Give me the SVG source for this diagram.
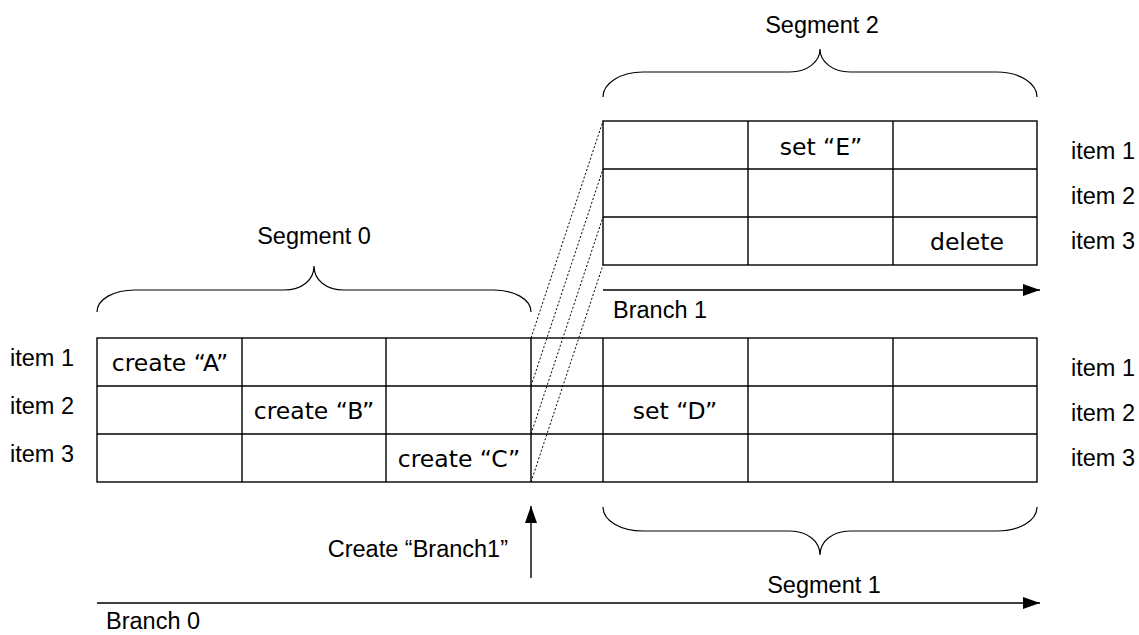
<svg xmlns="http://www.w3.org/2000/svg" width="1139" height="635" viewBox="0 0 1139 635">
  <defs>
    <style>
      .grid { fill: #ffffff; stroke: #000000; stroke-width: 1.4; }
      .rule { stroke: #000000; stroke-width: 1.4; fill: none; }
      .dot { stroke: #000000; stroke-width: 1; stroke-dasharray: 2 2; fill: none; }
      .brace { stroke: #000000; stroke-width: 1.2; fill: none; }
      .arrow { stroke: #000000; stroke-width: 1.4; fill: none; marker-end: url(#head); }
      .cell { font-family: "DejaVu Sans", Verdana, sans-serif; font-size: 23.5px; fill: #000000; text-anchor: middle; }
      .lbl { font-family: "Liberation Sans", Arial, sans-serif; font-size: 23.5px; fill: #000000; }
      .mid { text-anchor: middle; }
      .end { text-anchor: end; }
    </style>
    <marker id="head" markerUnits="userSpaceOnUse" markerWidth="18" markerHeight="12" refX="17" refY="6" orient="auto">
      <path d="M0,0 L17,6 L0,12 Z" fill="#000000"/>
    </marker>
  </defs>
  <rect width="1139" height="635" fill="#ffffff"/>

  <!-- Branch 0 grid: 7 columns x 3 items -->
  <g id="branch0-grid">
    <rect class="grid" x="97" y="338" width="940" height="144"/>
    <line class="rule" x1="97" y1="386" x2="1037" y2="386"/>
    <line class="rule" x1="97" y1="434" x2="1037" y2="434"/>
    <line class="rule" x1="242" y1="338" x2="242" y2="482"/>
    <line class="rule" x1="386" y1="338" x2="386" y2="482"/>
    <line class="rule" x1="531" y1="338" x2="531" y2="482"/>
    <line class="rule" x1="603" y1="338" x2="603" y2="482"/>
    <line class="rule" x1="748" y1="338" x2="748" y2="482"/>
    <line class="rule" x1="893" y1="338" x2="893" y2="482"/>
    <text class="cell" x="170" y="371">create “A”</text>
    <text class="cell" x="314" y="419">create “B”</text>
    <text class="cell" x="459" y="467">create “C”</text>
    <text class="cell" x="675" y="419">set “D”</text>
  </g>

  <!-- Branch 1 grid: 3 columns x 3 items -->
  <g id="branch1-grid">
    <rect class="grid" x="603" y="121" width="434" height="144"/>
    <line class="rule" x1="603" y1="169" x2="1037" y2="169"/>
    <line class="rule" x1="603" y1="217" x2="1037" y2="217"/>
    <line class="rule" x1="748" y1="121" x2="748" y2="265"/>
    <line class="rule" x1="893" y1="121" x2="893" y2="265"/>
    <text class="cell" x="821" y="155">set “E”</text>
    <text class="cell" x="967" y="250">delete</text>
  </g>

  <!-- item labels -->
  <g id="items-left">
    <text class="lbl" x="10" y="366">item 1</text>
    <text class="lbl" x="10" y="414">item 2</text>
    <text class="lbl" x="10" y="462">item 3</text>
  </g>
  <g id="items-right-branch1">
    <text class="lbl" x="1071" y="159">item 1</text>
    <text class="lbl" x="1071" y="204">item 2</text>
    <text class="lbl" x="1071" y="249">item 3</text>
  </g>
  <g id="items-right-branch0">
    <text class="lbl" x="1071" y="376">item 1</text>
    <text class="lbl" x="1071" y="421">item 2</text>
    <text class="lbl" x="1071" y="466">item 3</text>
  </g>

  <!-- segment braces -->
  <g id="segment0">
    <path class="brace" d="M97,312 C97,299 114,290 135,290 L284,290 C302,290 314,280 314,266 C314,280 326,290 344,290 L493,290 C514,290 531,299 531,312"/>
    <text class="lbl mid" x="314" y="244">Segment 0</text>
  </g>
  <g id="segment2">
    <path class="brace" d="M603,97 C603,83 621,72 643,72 L790,72 C807,72 820,62 820,49 C820,62 833,72 850,72 L997,72 C1019,72 1037,83 1037,97"/>
    <text class="lbl mid" x="822" y="33">Segment 2</text>
  </g>
  <g id="segment1">
    <path class="brace" d="M603,507 C603,521 621,531 643,531 L790,531 C807,531 820,541 820,555 C820,541 833,531 850,531 L997,531 C1019,531 1037,521 1037,507"/>
    <text class="lbl mid" x="824" y="593">Segment 1</text>
  </g>

  <!-- connectors: fork lines, branch timelines, branch creation -->
  <g id="connectors">
    <line class="dot" x1="531" y1="338" x2="603" y2="121"/>
    <line class="dot" x1="531" y1="386" x2="603" y2="169"/>
    <line class="dot" x1="531" y1="434" x2="603" y2="217"/>
    <line class="dot" x1="531" y1="482" x2="603" y2="265"/>
    <line class="arrow" x1="603" y1="290" x2="1040" y2="290"/>
    <line class="arrow" x1="97" y1="603" x2="1040" y2="603"/>
    <line class="arrow" x1="531" y1="578" x2="531" y2="506"/>
  </g>

  <g id="labels">
    <text class="lbl" x="613" y="318">Branch 1</text>
    <text class="lbl" x="106" y="629">Branch 0</text>
    <text class="lbl end" x="508" y="557">Create “Branch1”</text>
  </g>
</svg>
